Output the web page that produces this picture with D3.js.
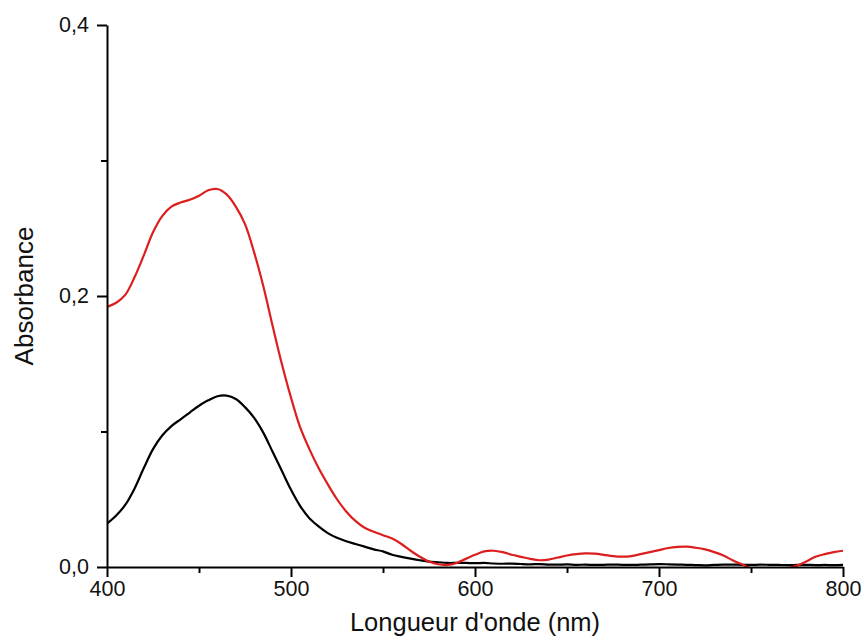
<!DOCTYPE html>
<html>
<head>
<meta charset="utf-8">
<script src="https://cdn.jsdelivr.net/npm/d3@7"></script>
<style>
  html, body { margin: 0; padding: 0; background: #fff; }
  svg { display: block; }
  text { font-family: "Liberation Sans", Arial, sans-serif; fill: #111; }
</style>
</head>
<body>
<svg id="chart" width="863" height="638"></svg>
<script>
// ---- data ----
const wavelengths = d3.range(400, 801, 5);
const redAbs = [
  0.192, 0.195, 0.201, 0.214, 0.230, 0.247, 0.259, 0.266, 0.269, 0.271,
  0.274, 0.278, 0.279, 0.275, 0.266, 0.253, 0.232, 0.207, 0.178, 0.150,
  0.125, 0.103, 0.087, 0.073, 0.061, 0.050, 0.041, 0.034, 0.029, 0.026,
  0.0235, 0.021, 0.017, 0.012, 0.0076, 0.004, 0.002, 0.0015, 0.003, 0.006,
  0.009, 0.0115, 0.012, 0.011, 0.009, 0.0075, 0.006, 0.005, 0.0055, 0.007,
  0.0085, 0.0095, 0.010, 0.0098, 0.009, 0.008, 0.0076, 0.008, 0.0095, 0.011,
  0.0125, 0.014, 0.0148, 0.0150, 0.0142, 0.013, 0.011, 0.0085, 0.005, 0.002,
  -0.001, -0.003, -0.004, -0.003, -0.001, 0.001, 0.004, 0.0075, 0.0095, 0.011,
  0.012
];
const blackAbs = [
  0.032, 0.038, 0.046, 0.058, 0.073, 0.087, 0.097, 0.104, 0.109, 0.114,
  0.119, 0.123, 0.126, 0.1265, 0.124, 0.118, 0.110, 0.099, 0.085, 0.071,
  0.057, 0.045, 0.036, 0.030, 0.025, 0.0215, 0.019, 0.017, 0.015, 0.013,
  0.0115, 0.009, 0.0075, 0.0062, 0.005, 0.004, 0.0035, 0.003, 0.003, 0.0030,
  0.0028, 0.0030, 0.0026, 0.0024, 0.0025, 0.0022, 0.0020, 0.0021, 0.0018, 0.0017,
  0.0019, 0.0016, 0.0017, 0.0015, 0.0016, 0.0018, 0.0016, 0.0015, 0.0017, 0.0019,
  0.0021, 0.0020, 0.0018, 0.0016, 0.0014, 0.0012, 0.0015, 0.0017, 0.0018, 0.0016,
  0.0015, 0.0017, 0.0016, 0.0015, 0.0014, 0.0015, 0.0016, 0.0014, 0.0015, 0.0014,
  0.0016
];
const xMajorTicks = [400, 500, 600, 700, 800];
const xMinorTicks = [450, 550, 650, 750];
const yMajorTicks = [0, 0.2, 0.4];
const yMajorLabels = ["0,0", "0,2", "0,4"];
const yMinorTicks = [0.1, 0.3];
const xTitle = "Longueur d'onde (nm)";
const yTitle = "Absorbance";

// ---- chart ----
const svg = d3.select("#chart");
const x = d3.scaleLinear().domain([400, 800]).range([107, 843]);
const y = d3.scaleLinear().domain([0, 0.4]).range([567, 25]);

svg.append("defs").append("clipPath").attr("id", "plotclip")
  .append("rect")
  .attr("x", x(400)).attr("y", y(0.4))
  .attr("width", x(800) - x(400)).attr("height", y(0) - y(0.4));

const line = d3.line()
  .x((d, i) => x(wavelengths[i]))
  .y(d => y(d))
  .curve(d3.curveCatmullRom.alpha(0.5));

const curves = svg.append("g").attr("clip-path", "url(#plotclip)");
curves.append("path").datum(blackAbs)
  .attr("d", line).attr("fill", "none")
  .attr("stroke", "#000").attr("stroke-width", 2.2).attr("stroke-linejoin", "round");
curves.append("path").datum(redAbs)
  .attr("d", line).attr("fill", "none")
  .attr("stroke", "#dc1e1e").attr("stroke-width", 2.2).attr("stroke-linejoin", "round");

// x axis
const gx = svg.append("g").attr("transform", `translate(0,${y(0)})`);
gx.call(d3.axisBottom(x).tickValues(xMajorTicks).tickSize(10).tickSizeOuter(0).tickPadding(4)
  .tickFormat(d3.format("d")));
const gxm = svg.append("g").attr("transform", `translate(0,${y(0)})`);
gxm.call(d3.axisBottom(x).tickValues(xMinorTicks).tickSize(6).tickSizeOuter(0).tickFormat(""));
gxm.select(".domain").remove();

// y axis
const gy = svg.append("g").attr("transform", `translate(${x(400)},0)`);
gy.call(d3.axisLeft(y).tickValues(yMajorTicks).tickSize(10).tickSizeOuter(0).tickPadding(8)
  .tickFormat((d, i) => yMajorLabels[i]));
const gym = svg.append("g").attr("transform", `translate(${x(400)},0)`);
gym.call(d3.axisLeft(y).tickValues(yMinorTicks).tickSize(6).tickSizeOuter(0).tickFormat(""));
gym.select(".domain").remove();

svg.selectAll(".domain, .tick line").attr("stroke", "#000").attr("stroke-width", 2);
svg.selectAll(".tick text")
  .attr("font-family", "'Liberation Sans', Arial, sans-serif")
  .attr("font-size", 21.5).attr("fill", "#111");

// titles
svg.append("text")
  .attr("x", (x(400) + x(800)) / 2).attr("y", 631)
  .attr("text-anchor", "middle").attr("font-size", 25.5)
  .text(xTitle);
svg.append("text")
  .attr("transform", `translate(33,${(y(0) + y(0.4)) / 2}) rotate(-90)`)
  .attr("text-anchor", "middle").attr("font-size", 26)
  .text(yTitle);
</script>
</body>
</html>
